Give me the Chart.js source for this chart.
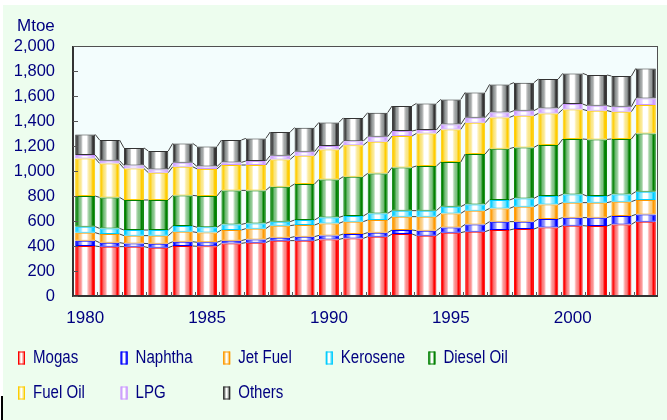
<!DOCTYPE html>
<html>
<head>
<meta charset="utf-8">
<script src="https://cdn.jsdelivr.net/npm/chart.js@4/dist/chart.umd.min.js"></script>
<style>
  html, body { margin: 0; padding: 0; background: #ffffff; }
  #wrap { position: absolute; left: 3px; top: 5px; width: 664px; height: 415px; background: #edfdee; }
  #chart { position: absolute; left: 0; top: 0; }
  #mark { position: absolute; left: 1px; top: 396px; width: 2px; height: 24px; background: #000; }
</style>
</head>
<body>
<div id="wrap"><canvas id="chart" width="664" height="415"></canvas></div>
<div id="mark"></div>
<script>
const years = ["1980","1981","1982","1983","1984","1985","1986","1987","1988","1989","1990","1991",
  "1992","1993","1994","1995","1996","1997","1998","1999","2000","2001","2002","2003"];

const mogas    = [400,395,395,387,400,398,421,427,443,443,453,461,475,496,483,507,515,528,536,549,563,560,573,595];
const naphtha  = [43,32,26,32,34,32,22,26,24,32,32,35,32,32,40,42,58,67,59,67,64,67,67,58];
const jetFuel  = [64,69,62,64,80,78,85,86,96,93,96,99,101,107,112,112,110,106,120,117,120,120,115,115];
const kerosene = [48,45,45,45,46,42,45,42,32,40,48,45,53,48,48,54,50,67,66,67,66,53,58,67];
const dieselOil= [245,248,240,240,245,251,272,264,280,288,304,315,320,346,357,357,403,411,408,408,443,453,443,466];
const fuelOil  = [301,272,252,219,229,216,203,203,218,227,240,252,254,251,261,261,251,250,254,253,237,230,219,227];
const lpg      = [27,22,24,26,32,19,21,32,30,32,27,32,40,40,27,40,40,40,40,40,43,40,40,53];
const others   = [165,165,141,147,155,160,179,181,189,192,189,186,192,200,213,200,202,224,224,235,245,245,245,240];

const yTicks = [0,200,400,600,800,1000,1200,1400,1600,1800,2000];

const series = [
  { label: "Mogas",      data: mogas,     color: "#ff0000" },
  { label: "Naphtha",    data: naphtha,   color: "#0000ff" },
  { label: "Jet Fuel",   data: jetFuel,   color: "#ff9900" },
  { label: "Kerosene",   data: kerosene,  color: "#00ccff" },
  { label: "Diesel Oil", data: dieselOil, color: "#008000" },
  { label: "Fuel Oil",   data: fuelOil,   color: "#ffcc00" },
  { label: "LPG",        data: lpg,       color: "#cc99ff" },
  { label: "Others",     data: others,    color: "#333333" }
];

const navy = "#000080";
const barPct = 0.82;

// cylinder look: saturated edges, white core
function cylinder(ctx2d, x0, x1, color) {
  const g = ctx2d.createLinearGradient(x0, 0, x1, 0);
  g.addColorStop(0, color);
  g.addColorStop(0.08, color);
  g.addColorStop(0.22, color + "77");
  g.addColorStop(0.38, "#ffffff");
  g.addColorStop(0.58, "#ffffff");
  g.addColorStop(0.78, color + "77");
  g.addColorStop(0.88, color);
  g.addColorStop(1, color);
  return g;
}

const plotFrame = {
  id: "plotFrame",
  beforeDraw(chart) {
    const a = chart.chartArea, c = chart.ctx;
    c.save();
    c.fillStyle = "#f3fdfd";
    c.fillRect(a.left, a.top, a.right - a.left, a.bottom - a.top);
    c.restore();
  },
  afterDatasetsDraw(chart) {
    const c = chart.ctx, a = chart.chartArea;
    c.save();
    // series lines between bars
    c.strokeStyle = "#404040";
    c.lineWidth = 1;
    chart.data.datasets.forEach((ds, di) => {
      const meta = chart.getDatasetMeta(di);
      for (let i = 0; i < meta.data.length - 1; i++) {
        const b = meta.data[i], n = meta.data[i + 1];
        c.beginPath();
        c.moveTo(b.x + b.width / 2, b.y);
        c.lineTo(n.x - n.width / 2, n.y);
        c.stroke();
      }
    });
    // frame
    c.strokeStyle = "#505050";
    c.lineWidth = 1;
    c.strokeRect(a.left + 0.5, a.top + 0.5, a.right - a.left - 1, a.bottom - a.top - 1);
    c.lineWidth = 2;
    c.strokeStyle = "#333333";
    c.beginPath();
    c.moveTo(a.left, a.top);
    c.lineTo(a.left, a.bottom);
    c.lineTo(a.right, a.bottom);
    c.stroke();
    // inner ticks
    c.lineWidth = 1;
    c.strokeStyle = "#555555";
    const ys = chart.scales.y, xs = chart.scales.x;
    yTicks.forEach(v => {
      const y = Math.round(ys.getPixelForValue(v)) + 0.5;
      c.beginPath(); c.moveTo(a.left, y); c.lineTo(a.left + 5, y); c.stroke();
    });
    for (let i = 1; i < years.length; i++) {
      const x = Math.round((xs.getPixelForValue(i - 1) + xs.getPixelForValue(i)) / 2) + 0.5;
      c.beginPath(); c.moveTo(x, a.bottom); c.lineTo(x, a.bottom - 4); c.stroke();
    }
    c.restore();
  },
  afterDraw(chart) {
    const c = chart.ctx;
    c.save();
    c.fillStyle = navy;
    c.font = "17px 'Liberation Sans', Arial, sans-serif";
    c.textBaseline = "middle";
    c.textAlign = "left";
    c.fillText("Mtoe", 14, 21);
    // legend in fixed columns
    chart.data.datasets.forEach((ds, i) => {
      const col = i % 5, row = Math.floor(i / 5);
      const bx = 15 + col * 102.6, by = 353 + row * 35;
      c.fillStyle = cylinder(c, bx, bx + 7, series[i].color);
      c.fillRect(bx, by - 6.5, 7, 13);
      c.strokeStyle = series[i].color;
      c.lineWidth = 1;
      c.strokeRect(bx + 0.5, by - 6.5 + 0.5, 6, 12);
      c.save();
      c.translate(bx + 15, by);
      c.scale(0.86, 1);
      c.font = "17.5px 'Liberation Sans', Arial, sans-serif";
      c.fillStyle = navy;
      c.fillText(ds.label, 0, 0);
      c.restore();
    });
    c.restore();
  }
};

const datasets = series.map(s => ({
  label: s.label,
  data: s.data,
  borderColor: s.color,
  borderWidth: 1,
  borderSkipped: false,
  categoryPercentage: 1,
  barPercentage: barPct,
  backgroundColor: (ctx) => {
    const chart = ctx.chart;
    if (ctx.type !== "data" || !chart.chartArea) return s.color;
    const xs = chart.scales.x;
    const x = xs.getPixelForValue(ctx.dataIndex);
    const w = (xs.width / years.length) * barPct;
    return cylinder(chart.ctx, x - w / 2, x + w / 2, s.color);
  }
}));

new Chart(document.getElementById("chart"), {
  type: "bar",
  data: { labels: years, datasets: datasets },
  options: {
    responsive: false,
    animation: false,
    layout: { padding: { left: 0, top: 41, right: 9, bottom: 0 } },
    plugins: {
      legend: { display: false },
      tooltip: { enabled: false }
    },
    scales: {
      x: {
        stacked: true,
        grid: { display: false, drawTicks: false },
        border: { display: false },
        afterFit: (scale) => { scale.height = 124; },
        ticks: {
          autoSkip: false,
          maxRotation: 0,
          padding: 12,
          color: navy,
          font: { family: "'Liberation Sans', Arial, sans-serif", size: 17 },
          callback: (v, i) => (Number(years[i]) % 5 === 0 ? years[i] : "")
        }
      },
      y: {
        stacked: true,
        min: 0,
        max: 2000,
        grid: { display: false, drawTicks: false },
        border: { display: false },
        afterFit: (scale) => { scale.width = 70; },
        afterBuildTicks: (scale) => { scale.ticks = yTicks.map(v => ({ value: v })); },
        ticks: {
          padding: 18,
          color: navy,
          font: { family: "'Liberation Sans', Arial, sans-serif", size: 16.5 },
          callback: (v) => v.toLocaleString("en-US")
        }
      }
    }
  },
  plugins: [plotFrame]
});
</script>
</body>
</html>
